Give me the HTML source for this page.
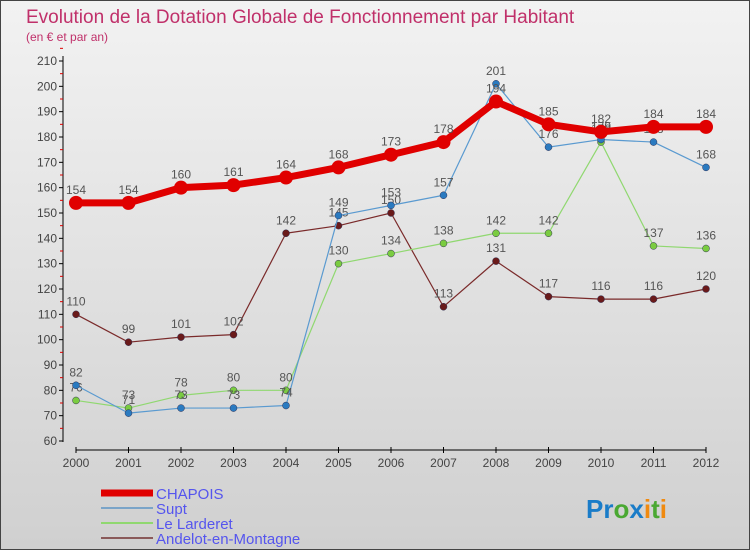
<!DOCTYPE html>
<html><head><meta charset="utf-8"><style>
body{margin:0;width:750px;height:550px;overflow:hidden}
#c{position:absolute;left:0;top:0;width:748px;height:548px;border:1px solid #444;background:linear-gradient(#f2f2f2,#d0d0d0)}
text{font-family:"Liberation Sans",sans-serif}
</style></head><body>
<div id="c">
<svg id="s" width="750" height="550" xmlns="http://www.w3.org/2000/svg">
<text x="25" y="22" font-size="19" fill="#c0306a">Evolution de la Dotation Globale de Fonctionnement par Habitant</text>
<text x="25" y="40" font-size="12" fill="#c0306a">(en € et par an)</text>
<g id="axes"></g><g id="series"></g><g id="legend"></g>
<text x="585" y="517" font-size="26" font-weight="bold"><tspan fill="#1a7cc8">Pr</tspan><tspan fill="#4aa832">o</tspan><tspan fill="#1a7cc8">x</tspan><tspan fill="#f08a10">i</tspan><tspan fill="#4aa832">t</tspan><tspan fill="#f08a10">i</tspan></text>
</svg></div>
<script>
const years=[2000,2001,2002,2003,2004,2005,2006,2007,2008,2009,2010,2011,2012];
const chapois=[154,154,160,161,164,168,173,178,194,185,182,184,184];
const supt=[82,71,73,73,74,149,153,157,201,176,179,178,168];
const larderet=[76,73,78,80,80,130,134,138,142,142,178,137,136];
const andelot=[110,99,101,102,142,145,150,113,131,117,116,116,120];
const yTicks=[60,70,80,90,100,110,120,130,140,150,160,170,180,190,200,210];
const NS="http://www.w3.org/2000/svg";
const X=i=>75+i*(630/12), Y=v=>440-(v-60)*380/150;
function mk(t,a,p){const e=document.createElementNS(NS,t);for(const k in a)e.setAttribute(k,a[k]);p.appendChild(e);return e;}
const ax=document.getElementById('axes');
let l=mk('line',{x1:62,y1:55,x2:62,y2:441,stroke:'#000'},ax);


yTicks.forEach(v=>{
 mk('line',{x1:58,y1:Y(v),x2:62,y2:Y(v),stroke:'#000'},ax);
 mk('line',{x1:59,y1:Y(v+5),x2:62,y2:Y(v+5),stroke:'#d00'},ax);
 const t=mk('text',{x:56,y:Y(v)+4,'font-size':12,'text-anchor':'end',fill:'#444'},ax);t.textContent=v;
 
 
});
l=mk('line',{x1:75,y1:449,x2:705,y2:449,stroke:'#000'},ax);


years.forEach((y,i)=>{
 mk('line',{x1:X(i),y1:446,x2:X(i),y2:452,stroke:'#000'},ax);
 const t=mk('text',{x:X(i),y:466,'font-size':12,'text-anchor':'middle',fill:'#444'},ax);t.textContent=y;
 
 
});
const sg=document.getElementById('series');
const defs=[['andelot',andelot,'#7a2a2a','#6a1a1a',1.2,3.5],['larderet',larderet,'#90d870','#7acc40',1.2,3.5],['supt',supt,'#5a9ad0','#2a7ac0',1.2,3.5],['chapois',chapois,'#e00000','#e00000',7,7]];
defs.forEach(([n,d,c,mc,w,r])=>{
 const g=mk('g',{},sg);
 
 
 const p=mk('polyline',{points:d.map((v,i)=>X(i)+','+Y(v)).join(' '),fill:'none',stroke:c,'stroke-width':w,'stroke-linejoin':'round'},g);
 
 
 d.forEach((v,i)=>{
  const ci=mk('circle',{cx:X(i),cy:Y(v),r:r,fill:mc,stroke:n=='chapois'?'none':'#335','stroke-width':0.5},g);
  
  
  const t=mk('text',{x:X(i),y:Y(v)-9,'font-size':12,'text-anchor':'middle',fill:'#555'},g);t.textContent=v;
  
  
 });
});
const lg=document.getElementById('legend');
[['CHAPOIS','#e00000',7],['Supt','#7aa4c8',2],['Le Larderet','#90d870',2],['Andelot-en-Montagne','#8a5a5a',2]].forEach(([n,c,w],i)=>{
 const yy=492+i*15;
 const ln=mk('line',{x1:100,y1:yy,x2:152,y2:yy,stroke:c,'stroke-width':w},lg);
 
 
 const t=mk('text',{x:155,y:yy+6,'font-size':15,fill:'#5555ee'},lg);t.textContent=n;
 
 
});
</script>
</body></html>
